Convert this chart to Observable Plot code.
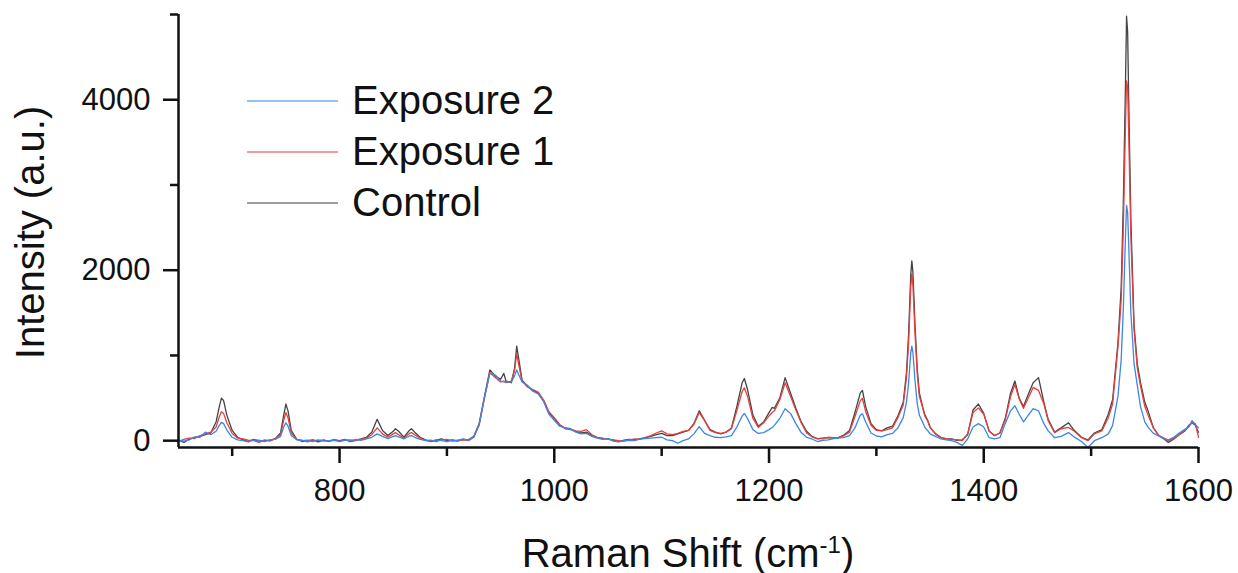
<!DOCTYPE html>
<html>
<head>
<meta charset="utf-8">
<script src="https://cdn.jsdelivr.net/npm/d3@7"></script>
<script src="https://cdn.jsdelivr.net/npm/@observablehq/plot@0.6"></script>
<style>
  html, body { margin: 0; padding: 0; background: #fff; }
  #wrap { position: relative; width: 1238px; height: 573px; font-family: "Liberation Sans", Arial, sans-serif; }
  #legend { position: absolute; left: 247px; top: 75px; }
  #legend .row { display: flex; align-items: center; height: 51px; }
  #legend .row span { font-size: 40px; color: #111; margin-left: 14px; }
</style>
</head>
<body>
<div id="wrap"><div id="legend"></div></div>
<script>
// Raman shift (cm-1) sampling points shared by all three spectra
const shift = [
  650,655,660,665,670,675,680,685,688,690,692,695,700,705,710,715,720,725,730,735,740,745,748,750,752,755,
  760,765,770,775,780,785,790,795,800,805,810,815,820,825,830,835,840,845,850,852,855,860,865,867,870,875,
  880,885,890,895,900,905,910,915,920,925,930,935,940,945,950,953,955,960,963,965,967,970,975,980,985,990,995,
  1000,1005,1010,1015,1020,1025,1030,1035,1040,1045,1050,1055,1060,1065,1070,1075,1080,1085,1090,1095,
  1100,1105,1110,1115,1120,1125,1130,1135,1140,1145,1150,1155,1160,1165,1170,1175,1177,1180,1185,1190,1195,
  1200,1203,1205,1210,1215,1220,1225,1230,1235,1240,1245,1250,1255,1260,1265,1270,1275,1280,1285,1287,1290,1295,
  1300,1305,1310,1315,1320,1325,1328,1330,1332,1333,1334,1336,1338,1340,1343,1345,1348,1350,1355,1360,1365,1370,1375,1380,1385,1390,1395,
  1400,1405,1410,1415,1420,1425,1429,1433,1437,1441,1446,1451,1456,1460,1466,1472,1479,1484,1491,1497,
  1503,1510,1516,1520,1525,1528,1530,1532,1533,1534,1535,1537,1540,1543,1546,1550,1553,1558,1563,1568,1572,1577,1581,1587,1591,1594,1597,1600
];

// Intensity (a.u.) of each spectrum at the points above
const control = [
  10,-20,20,35,50,70,90,220,400,500,470,300,120,40,10,-10,15,-5,0,5,20,90,300,430,350,120,
  20,-10,0,10,-15,5,-5,10,0,15,-10,5,20,40,100,250,120,60,110,140,110,40,120,140,100,40,
  10,-10,5,20,0,10,-5,15,10,50,200,520,830,760,720,790,700,680,850,1110,950,710,640,590,560,470,330,
  260,180,150,140,110,90,100,60,35,25,20,5,-10,5,15,10,25,35,50,70,
  85,60,60,80,100,120,200,350,240,130,100,80,100,150,400,680,730,600,300,170,220,
  330,390,380,500,740,560,380,220,110,50,25,30,35,30,40,70,120,330,560,590,400,200,
  130,115,150,170,290,450,800,1250,1950,2110,1980,1350,850,560,400,310,230,160,80,35,25,20,5,10,70,360,430,
  320,110,60,90,260,560,700,500,400,530,680,740,450,250,100,150,210,125,40,10,
  90,130,310,480,1150,1800,2800,4200,4980,4800,4000,2600,1350,900,680,450,350,150,60,20,-20,20,60,110,180,210,180,100
];
const exposure1 = [
  -10,15,30,25,60,80,100,160,280,340,320,210,85,30,20,5,0,-20,10,-5,25,70,240,330,270,90,
  15,5,-15,5,0,10,-10,15,-5,5,10,0,15,30,70,150,80,40,80,95,70,30,85,95,70,30,
  0,5,-10,10,15,-5,5,10,0,40,180,500,800,740,690,700,680,700,820,1020,880,700,630,600,570,480,340,
  270,190,140,130,115,110,130,70,40,30,15,10,0,-5,10,20,15,40,60,90,
  115,80,70,85,110,120,190,330,235,120,95,85,100,140,350,580,620,520,260,155,210,
  290,330,350,480,680,520,360,210,90,45,20,25,40,35,35,60,100,280,470,495,340,180,
  120,115,130,150,270,420,740,1150,1800,1960,1830,1250,790,520,390,290,225,150,85,40,20,15,10,0,80,330,385,
  310,115,60,90,240,520,660,490,380,490,625,590,430,235,95,140,155,115,35,0,
  80,115,270,430,1100,1650,2500,3700,4220,4150,3600,2400,1300,850,640,400,300,150,60,30,0,30,60,120,170,210,200,40
];
const exposure2 = [
  5,-5,10,45,40,100,70,110,180,215,200,125,40,10,0,-15,10,5,-10,10,15,50,160,210,170,60,
  10,0,5,-10,10,-5,0,5,-10,10,-5,15,5,20,40,80,50,25,50,60,45,20,55,60,40,15,
  5,-5,10,0,-10,5,0,20,5,45,190,510,790,770,700,690,690,690,760,830,770,690,650,580,550,460,310,
  240,170,150,135,100,80,85,50,30,15,25,-5,-15,0,5,0,20,25,30,35,
  40,10,0,-30,0,20,80,165,85,60,40,35,45,60,160,290,320,260,130,85,95,
  130,155,180,260,375,320,200,95,40,20,-10,5,10,25,30,40,60,150,300,315,220,90,
  55,45,70,85,150,270,450,680,1030,1110,1040,700,440,300,220,160,115,80,50,20,10,0,-20,-55,20,160,200,
  160,35,20,35,200,350,410,310,220,290,375,350,200,115,35,50,95,45,-10,-80,
  0,35,80,180,520,950,1550,2400,2760,2680,2300,1500,900,650,400,220,160,85,55,20,10,40,80,130,160,235,190,150
];

const seriesNames = ["Control", "Exposure 1", "Exposure 2"];
const seriesColors = ["#444444", "#e6403e", "#3b86e6"];
const legendOrder = ["Exposure 2", "Exposure 1", "Control"];

const xDomain = [650, 1600];
const yDomain = [-80, 5000];
const xMajorTicks = [800, 1000, 1200, 1400, 1600];
const xMinorTicks = [700, 900, 1100, 1300, 1500];
const yMajorTicks = [0, 2000, 4000];
const yMinorTicks = [1000, 3000, 5000];

const spectra = [control, exposure1, exposure2];
const rows = seriesNames.flatMap((name, k) =>
  shift.map((s, i) => ({shift: s, intensity: spectra[k][i], series: name}))
);

const font = '"Liberation Sans", Arial, sans-serif';

const chart = Plot.plot({
  width: 1238,
  height: 573,
  marginLeft: 178,
  marginRight: 40,
  marginTop: 14,
  marginBottom: 126,
  style: {fontFamily: font, fontSize: "31px", color: "#111", background: "white", overflow: "visible"},
  x: {domain: xDomain},
  y: {domain: yDomain},
  marks: [
    ...seriesNames.map((name, k) =>
      Plot.line(rows.filter(d => d.series === name), {
        x: "shift", y: "intensity", stroke: seriesColors[k], strokeWidth: 1.3, strokeLinejoin: "round"
      })
    ),
    Plot.axisX({ticks: xMajorTicks, tickSize: 16, tickPadding: 15, strokeWidth: 2.5, label: null, tickFormat: d3.format("d")}),
    Plot.axisX({ticks: xMinorTicks, tickSize: 9, strokeWidth: 2.5, label: null, tickFormat: () => ""}),
    Plot.axisY({ticks: yMajorTicks, tickSize: 15, tickPadding: 13, strokeWidth: 2.5, label: null, tickFormat: d3.format("d")}),
    Plot.axisY({ticks: yMinorTicks, tickSize: 8, strokeWidth: 2.5, label: null, tickFormat: () => ""}),
    Plot.ruleX([xDomain[0]], {strokeWidth: 2.5, stroke: "#111"}),
    Plot.ruleY([yDomain[0]], {strokeWidth: 2.5, stroke: "#111"})
  ]
});

// axis titles
const xs = chart.scale("x"), ys = chart.scale("y");
const svg = d3.select(chart);
const xt = svg.append("text")
  .attr("x", (xs.range[0] + xs.range[1]) / 2)
  .attr("y", 567)
  .attr("text-anchor", "middle")
  .attr("font-family", font)
  .attr("font-size", 40)
  .attr("fill", "#111");
xt.append("tspan").text("Raman Shift (cm");
xt.append("tspan").attr("font-size", 24).attr("dy", -14).text("-1");
xt.append("tspan").attr("dy", 14).text(")");

svg.append("text")
  .attr("transform", `translate(44,${(ys.range[0] + ys.range[1]) / 2 + 2}) rotate(-90)`)
  .attr("text-anchor", "middle")
  .attr("font-family", font)
  .attr("font-size", 40)
  .attr("fill", "#111")
  .text("Intensity (a.u.)");

const wrap = document.getElementById("wrap");
wrap.insertBefore(chart, wrap.firstChild);

// legend: a short line sample in each series colour, then its name
const legend = d3.select("#legend");
legendOrder.forEach(name => {
  const color = seriesColors[seriesNames.indexOf(name)];
  const row = legend.append("div").attr("class", "row");
  const sw = row.append("svg").attr("width", 91).attr("height", 4);
  sw.append("line").attr("x1", 0).attr("x2", 91).attr("y1", 2).attr("y2", 2)
    .attr("stroke", color).attr("stroke-width", 1.5).attr("stroke-opacity", 0.7);
  row.append("span").text(name);
});
</script>
</body>
</html>
